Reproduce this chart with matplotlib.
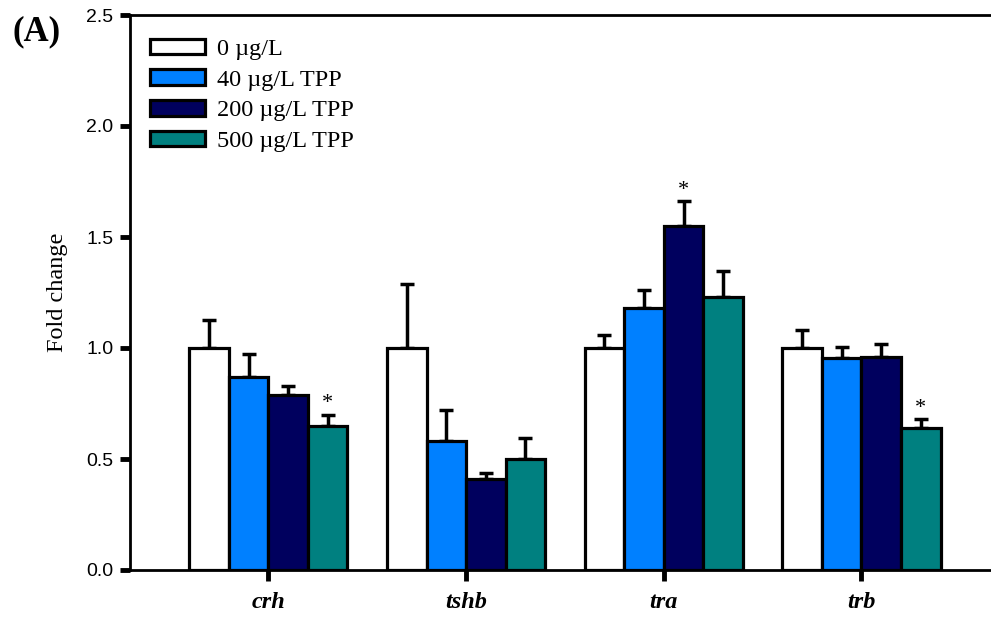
import matplotlib
matplotlib.use("Agg")
import matplotlib.pyplot as plt
import numpy as np

genes = ["crh", "tshb", "tra", "trb"]
series = ["0 \u00b5g/L", "40 \u00b5g/L TPP", "200 \u00b5g/L TPP", "500 \u00b5g/L TPP"]
colors = ["#FFFFFF", "#0080FF", "#00005E", "#008080"]

means = {
    "0 \u00b5g/L":        [1.00, 1.00, 1.00, 1.00],
    "40 \u00b5g/L TPP":   [0.87, 0.58, 1.18, 0.955],
    "200 \u00b5g/L TPP":  [0.79, 0.41, 1.55, 0.96],
    "500 \u00b5g/L TPP":  [0.65, 0.50, 1.23, 0.64],
}
errs = {
    "0 \u00b5g/L":        [0.125, 0.29, 0.06, 0.08],
    "40 \u00b5g/L TPP":   [0.105, 0.14, 0.08, 0.05],
    "200 \u00b5g/L TPP":  [0.04, 0.025, 0.11, 0.06],
    "500 \u00b5g/L TPP":  [0.05, 0.095, 0.115, 0.04],
}
sig = {
    "0 \u00b5g/L":        [False, False, False, False],
    "40 \u00b5g/L TPP":   [False, False, False, False],
    "200 \u00b5g/L TPP":  [False, False, True, False],
    "500 \u00b5g/L TPP":  [True, False, False, True],
}
yticks = [0.0, 0.5, 1.0, 1.5, 2.0, 2.5]

serif = "Liberation Serif"
sans = "Liberation Sans"

fig = plt.figure(figsize=(9.91, 6.19), dpi=100)
ax = fig.add_axes([130/991, 1 - 570/619, 860/991, (570-15)/619])

x = np.arange(len(genes))
width = 0.2
for i, s in enumerate(series):
    pos = x + (i - 1.5) * width
    ax.bar(pos, means[s], width, color=colors[i], edgecolor="black",
           linewidth=2.3, label=s, zorder=2)
    ax.errorbar(pos, means[s], yerr=[np.zeros(len(genes)), errs[s]],
                fmt="none", ecolor="black", elinewidth=2.5, capsize=4.8,
                capthick=2.5, zorder=1)
    for j, flag in enumerate(sig[s]):
        if flag:
            ax.annotate("*", (pos[j], means[s][j] + errs[s][j]),
                        xytext=(0, 1), textcoords="offset points",
                        ha="center", va="bottom", fontsize=16,
                        family=serif)

ax.set_xlim(-0.70, 3.65)
ax.set_ylim(0, 2.5)
ax.set_yticks(yticks)
ax.set_yticklabels([f"{v:.1f}" for v in yticks], family=sans, fontsize=14)
ax.set_xticks(x)
ax.set_xticklabels(genes, family=serif, fontsize=17.5, fontweight="bold",
                   fontstyle="italic")
ax.tick_params(axis="y", length=7, width=3.5, pad=5)
ax.tick_params(axis="x", length=8, width=3.5, pad=8)

for sp in ["left", "bottom", "top"]:
    ax.spines[sp].set_linewidth(2)
ax.spines["right"].set_visible(False)

ax.set_ylabel("Fold change", family=serif, fontsize=17.5, labelpad=13)

leg = ax.legend(loc="upper left", bbox_to_anchor=(0.012, 0.975), frameon=False,
                prop={"family": serif, "size": 17.5}, handlelength=2.25,
                handleheight=0.62, handletextpad=0.5, labelspacing=0.38,
                borderaxespad=0)

fig.text(12/991, 1 - 32/619, "(A)", family=serif, fontsize=25,
         fontweight="bold", va="center", ha="left")

fig.savefig("out.png", dpi=100)
